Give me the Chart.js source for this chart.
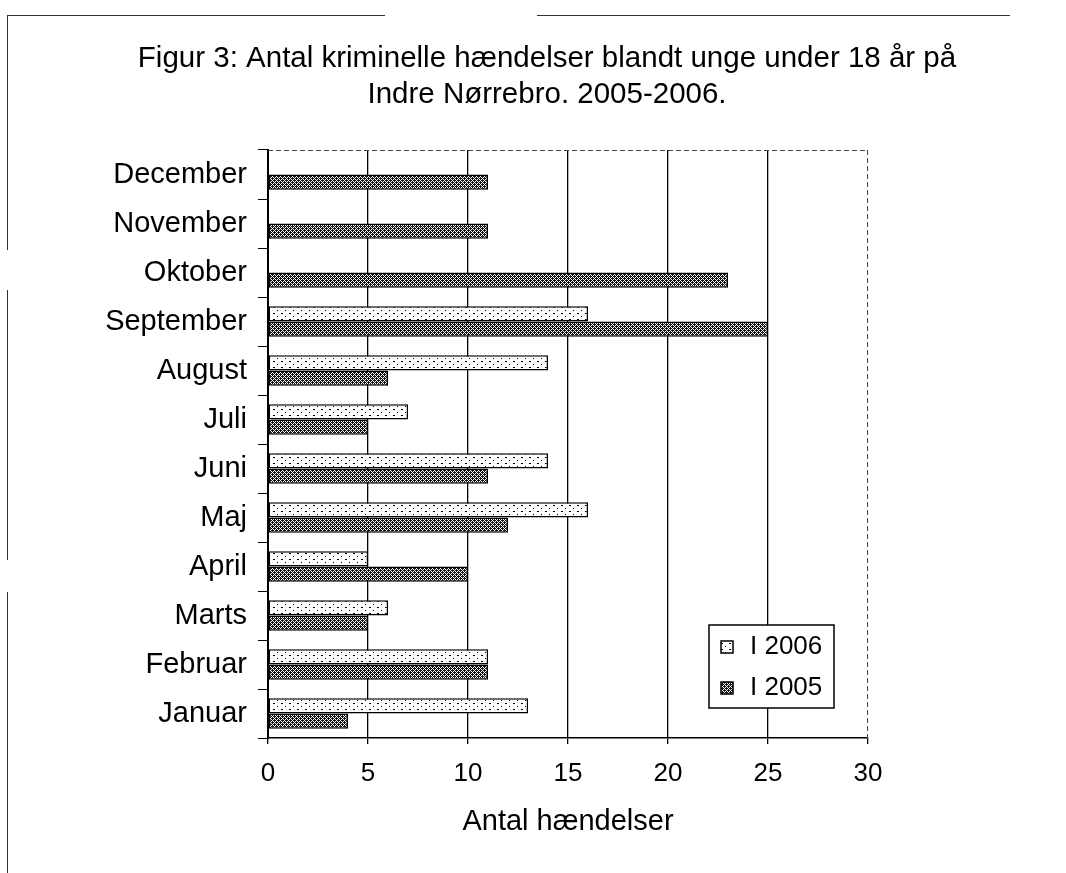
<!DOCTYPE html>
<html>
<head>
<meta charset="utf-8">
<script src="https://cdn.jsdelivr.net/npm/chart.js@4.4.1/dist/chart.umd.min.js"></script>
<style>
	html, body { margin: 0; padding: 0; background: #fff; }
	#wrap { position: relative; width: 1066px; height: 873px; }
	canvas { display: block; }
	.fr { position: absolute; background: #333; }
</style>
</head>
<body>
<div id="wrap">
	<canvas id="c" width="1066" height="873"></canvas>
	<div class="fr" style="left:7px;top:15px;width:378px;height:1px"></div>
	<div class="fr" style="left:537px;top:15px;width:473px;height:1px"></div>
	<div class="fr" style="left:7px;top:15px;width:1px;height:235px"></div>
	<div class="fr" style="left:7px;top:290px;width:1px;height:270px"></div>
	<div class="fr" style="left:7px;top:592px;width:1px;height:281px"></div>
</div>
<script>
const months = ['Januar', 'Februar', 'Marts', 'April', 'Maj', 'Juni', 'Juli', 'August', 'September', 'Oktober', 'November', 'December'];
const values2006 = [13, 11, 6, 5, 16, 14, 7, 14, 16, null, null, null];
const values2005 = [4, 11, 5, 10, 12, 11, 5, 6, 25, 23, 11, 11];
const xTicks = [0, 5, 10, 15, 20, 25, 30];
const titleLines = ['Figur 3: Antal kriminelle hændelser blandt unge under 18 år på', 'Indre Nørrebro. 2005-2006.'];

Chart.defaults.font.family = '"Liberation Sans", Arial, sans-serif';
Chart.defaults.color = '#000';

const canvas = document.getElementById('c');
const ctx = canvas.getContext('2d');

// fill patterns like the old b/w print
function makePattern(kind){
	const t = document.createElement('canvas');
	t.width = 4; t.height = 4;
	const g = t.getContext('2d');
	if(kind === 'dots'){
		t.width = 8; t.height = 6;
		g.fillStyle = '#fff';
		g.fillRect(0, 0, 8, 6);
		g.fillStyle = '#000';
		g.fillRect(1, 1, 2, 1);
		g.fillRect(5, 4, 1, 1);
	}else{
		g.fillStyle = '#111';
		g.fillRect(0, 0, 4, 4);
		g.fillStyle = '#fff';
		for(let x = 0; x < 4; x++){
			for(let y = 0; y < 4; y++){
				if((x + y) % 4 === 0 || (x - y + 8) % 4 === 0) g.fillRect(x, y, 1, 1);
			}
		}
	}
	return ctx.createPattern(t, 'repeat');
}
const pat2006 = makePattern('dots');
const pat2005 = makePattern('hatch');

const overlay = {
	id: 'overlay',
	afterDraw(chart){
		// title is centred on the page, not on the plot
		const c = chart.ctx;
		c.save();
		c.fillStyle = '#000';
		c.font = '29.5px "Liberation Sans", Arial, sans-serif';
		c.textAlign = 'center';
		c.textBaseline = 'middle';
		titleLines.forEach((t, i) => c.fillText(t, 547, 59 + i * 36));
		c.restore();
	},
	afterDatasetsDraw(chart){
		const c = chart.ctx;
		const a = chart.chartArea;
		c.save();
		// top and right frame of the plot
		c.strokeStyle = '#444';
		c.lineWidth = 1;
		c.setLineDash([5, 3]);
		c.beginPath();
		c.moveTo(a.left, a.top + 0.5);
		c.lineTo(a.right, a.top + 0.5);
		c.moveTo(a.right - 0.5, a.top);
		c.lineTo(a.right - 0.5, a.bottom);
		c.stroke();
		c.setLineDash([]);
		// legend box inside the plot
		const lw = 125, lh = 83;
		const lx = a.right - 34 - lw, ly = a.bottom - 30 - lh;
		c.fillStyle = '#fff';
		c.fillRect(lx, ly, lw, lh);
		c.strokeStyle = '#000';
		c.lineWidth = 1.5;
		c.strokeRect(lx, ly, lw, lh);
		c.font = '26px "Liberation Sans", Arial, sans-serif';
		c.textBaseline = 'middle';
		chart.data.datasets.forEach((ds, i) => {
			const cy = ly + 22 + i * 41;
			c.fillStyle = ds.backgroundColor;
			c.fillRect(lx + 12, cy - 6, 12, 12);
			c.strokeRect(lx + 12, cy - 6, 12, 12);
			c.fillStyle = '#000';
			c.fillText(ds.label, lx + 41, cy);
		});
		c.restore();
	}
};

new Chart(canvas, {
	type: 'bar',
	data: {
		labels: months,
		datasets: [{
			label: 'I 2006',
			data: values2006,
			backgroundColor: pat2006,
			borderColor: '#000',
			borderWidth: 1.5,
			borderSkipped: false,
			categoryPercentage: 0.62,
			barPercentage: 1
		}, {
			label: 'I 2005',
			data: values2005,
			backgroundColor: pat2005,
			borderColor: '#000',
			borderWidth: 1.5,
			borderSkipped: false,
			categoryPercentage: 0.62,
			barPercentage: 1
		}]
	},
	options: {
		indexAxis: 'y',
		responsive: false,
		animation: false,
		layout: { padding: { left: 0, right: 198, top: 150, bottom: 0 } },
		plugins: {
			legend: { display: false },
			tooltip: { enabled: false },
			title: { display: false }
		},
		scales: {
			x: {
				min: 0,
				max: 30,
				afterBuildTicks(s){ s.ticks = xTicks.map(v => ({ value: v })); },
				ticks: { color: '#000', font: { size: 26 }, padding: 14 },
				grid: {
					color: c => (c.tick && c.tick.value === 30) ? 'rgba(0,0,0,0)' : '#000',
					lineWidth: 1.3,
					tickLength: 6,
					tickColor: '#000'
				},
				border: { color: '#000', width: 1.5 },
				title: {
					display: true,
					text: 'Antal hændelser',
					color: '#000',
					font: { size: 29 },
					padding: { top: 0, bottom: 34 }
				},
				afterFit(s){ s.height = 135; }
			},
			y: {
				reverse: true,
				ticks: { color: '#000', font: { size: 29 }, padding: 11, autoSkip: false },
				grid: { drawOnChartArea: false, tickLength: 10, color: '#000', tickColor: '#000' },
				border: { color: '#000', width: 2 },
				afterFit(s){ s.width = 268; }
			}
		}
	},
	plugins: [overlay]
});
</script>
</body>
</html>
